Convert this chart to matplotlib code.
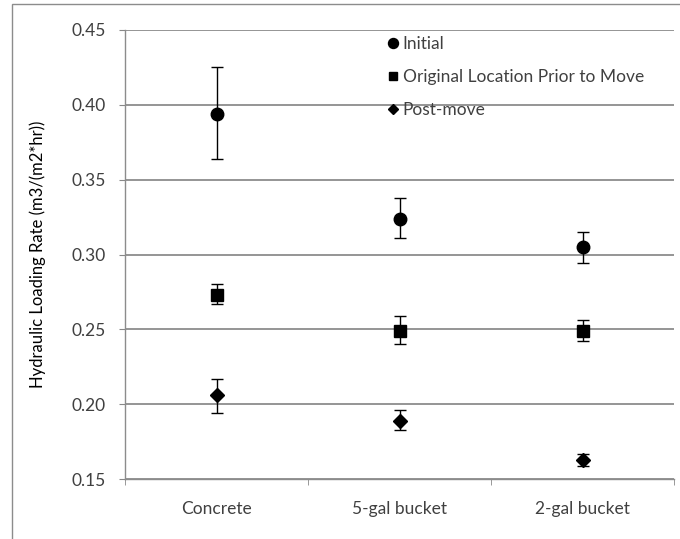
import matplotlib
matplotlib.use("Agg")
import matplotlib.pyplot as plt
from matplotlib.lines import Line2D
from matplotlib.patches import Rectangle

categories = ["Concrete", "5-gal bucket", "2-gal bucket"]
series_names = ["Initial", "Original Location Prior to Move", "Post-move"]
initial = [0.394, 0.324, 0.305]
initial_lo = [0.364, 0.311, 0.294]
initial_hi = [0.425, 0.338, 0.315]
original = [0.273, 0.249, 0.249]
original_lo = [0.267, 0.240, 0.242]
original_hi = [0.280, 0.259, 0.256]
post = [0.206, 0.189, 0.163]
post_lo = [0.194, 0.183, 0.159]
post_hi = [0.217, 0.196, 0.167]
yticks = [0.15, 0.20, 0.25, 0.30, 0.35, 0.40, 0.45]

plt.rcParams['font.family'] = ['Lato', 'DejaVu Sans']

fig = plt.figure(figsize=(6.8, 5.39), dpi=100)
ax = fig.add_axes([125/680, 1-479/539, 549/680, 449/539])

x = list(range(len(categories)))
markers = ['o', 's', 'D']
msizes = [9, 8, 7]
data = [(initial, initial_lo, initial_hi), (original, original_lo, original_hi), (post, post_lo, post_hi)]
handles = []
for (vals, lo, hi), m, ms, name in zip(data, markers, msizes, series_names):
    err = [[v - l for v, l in zip(vals, lo)], [h - v for v, h in zip(vals, hi)]]
    ax.errorbar(x, vals, yerr=err, fmt='none', ecolor='black', elinewidth=1.0,
                capsize=4, capthick=1.0, zorder=3)
    ax.plot(x, vals, linestyle='none', marker=m, markersize=ms, color='black', zorder=4)
    handles.append(Line2D([], [], linestyle='none', marker=m, markersize=ms*0.8,
                          color='black', label=name))

ax.set_xlim(-0.5, 2.5)
ax.set_ylim(0.15, 0.45)
ax.set_yticks(yticks)
ax.set_yticklabels([f"{t:.2f}" for t in yticks])
ax.set_xticks(x)
ax.set_xticklabels(categories)
ax.set_xticks([-0.5, 0.5, 1.5, 2.5], minor=True)
ax.tick_params(axis='x', which='major', length=0, pad=16, labelsize=12.5, labelcolor='#404040')
ax.tick_params(axis='x', which='minor', length=4, color='#888888', direction='out')
ax.tick_params(axis='y', which='major', length=4, color='#888888', labelsize=12.5,
               labelcolor='#404040', pad=10)
ax.yaxis.grid(True, color='#8c8c8c', linewidth=1.3)
ax.set_axisbelow(True)
for s in ['top', 'right']:
    ax.spines[s].set_visible(False)
for s in ['left', 'bottom']:
    ax.spines[s].set_color('#8c8c8c')
    ax.spines[s].set_linewidth(1.0)

ax.set_ylabel("Hydraulic Loading Rate (m3/(m2*hr))", fontsize=12, labelpad=18)

leg = ax.legend(handles=handles, loc='upper left', bbox_to_anchor=(0.46, 1.003),
                frameon=False, fontsize=12.5, handletextpad=0.05, handlelength=1.0,
                labelspacing=1.0, borderaxespad=0)
for t in leg.get_texts():
    t.set_color('#404040')

# outer chart frame
fig.patches.append(Rectangle((12/680, -0.1), 1.0, (1-4/539)+0.1, transform=fig.transFigure,
                             fill=False, edgecolor='#8c8c8c', linewidth=1.0))

fig.savefig("out.png", dpi=100)
